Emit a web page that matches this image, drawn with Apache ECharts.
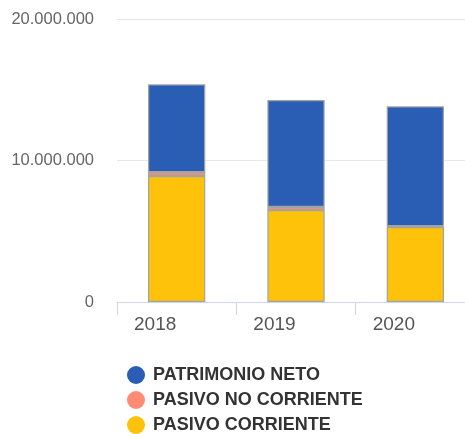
<!DOCTYPE html>
<html>
<head>
<meta charset="utf-8">
<script src="https://cdn.jsdelivr.net/npm/echarts@6/dist/echarts.min.js"></script>
<style>
  html, body { margin: 0; padding: 0; background: #fff; overflow: hidden; }
  /* the chart canvas runs a little past the right edge of the window */
  #chart { width: 475px; height: 434px; }
</style>
</head>
<body>
<div id="chart"></div>
<script>
// Balance structure by year (stacked bars)
const years = ['2018', '2019', '2020'];
const pasivoCorriente = [8900000, 6500000, 5300000];
const pasivoNoCorriente = [280000, 220000, 50000];
const patrimonioNeto = [6200000, 7560000, 8480000];
const seriesNames = ['PATRIMONIO NETO', 'PASIVO NO CORRIENTE', 'PASIVO CORRIENTE'];
const seriesColors = ['#2a5eb4', '#fe8b73', '#ffc20a'];

const fontFamily = '"Liberation Sans", Arial, sans-serif';

function fmt(v) {
  return String(v).replace(/\B(?=(\d{3})+(?!\d))/g, '.');
}

function barSeries(name, data, color) {
  return {
    name: name,
    type: 'bar',
    stack: 'total',
    data: data,
    barWidth: '48%',
    itemStyle: { color: color, borderColor: '#a3a3a3', borderWidth: 1.2 }
  };
}

const chart = echarts.init(document.getElementById('chart'), null, { renderer: 'canvas' });
chart.setOption({
  animation: false,
  grid: { left: 117, right: 0, top: 19, height: 283, containLabel: false },
  xAxis: {
    type: 'category',
    data: years,
    axisLine: { lineStyle: { color: '#ccd6eb', width: 1 } },
    axisTick: { show: true, length: 13, lineStyle: { color: '#ccd6eb' } },
    axisLabel: {
      color: '#555', fontSize: 19, fontFamily: fontFamily, margin: 13,
      padding: [0, 43, 0, 0]
    }
  },
  yAxis: {
    type: 'value',
    min: 0,
    max: 20000000,
    interval: 10000000,
    axisLine: { show: false },
    axisTick: { show: false },
    splitLine: { lineStyle: { color: '#e6e6e6', width: 1 } },
    axisLabel: {
      color: '#666', fontSize: 16.5, fontFamily: fontFamily, margin: 23,
      formatter: fmt
    }
  },
  legend: {
    orient: 'vertical',
    left: 122,
    top: 361,
    height: 80,
    data: seriesNames,
    icon: 'circle',
    itemWidth: 18,
    itemHeight: 18,
    itemGap: 7,
    itemStyle: { borderWidth: 0 },
    textStyle: {
      color: '#333', fontSize: 18, fontWeight: 'bold', fontFamily: fontFamily,
      lineHeight: 18, padding: [0, 0, 0, 3]
    }
  },
  series: [
    barSeries(seriesNames[2], pasivoCorriente, seriesColors[2]),
    barSeries(seriesNames[1], pasivoNoCorriente, seriesColors[1]),
    barSeries(seriesNames[0], patrimonioNeto, seriesColors[0])
  ]
});
</script>
</body>
</html>
